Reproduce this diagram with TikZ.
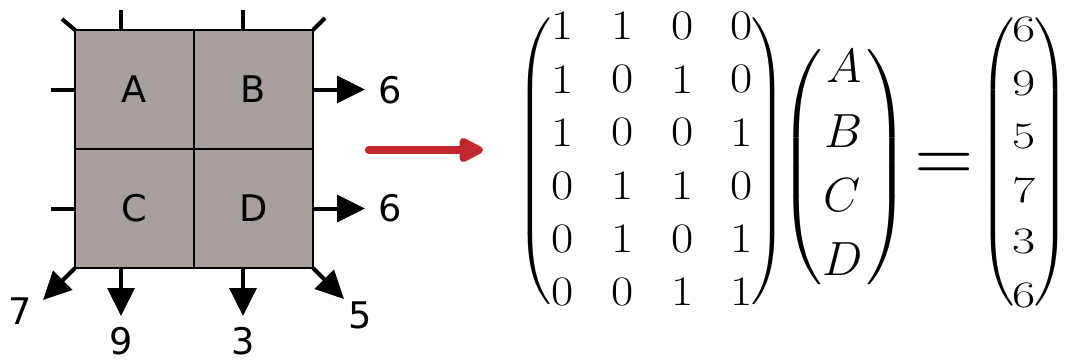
\documentclass[tikz,border=0pt]{standalone}
\usepackage{fontspec}
\usepackage{graphicx}
\usetikzlibrary{arrows.meta}
\newfontfamily\labelfont{DejaVu Sans}
% scalable Computer Modern math fonts
\DeclareFontShape{OML}{cmm}{m}{it}{<->cmmi12}{}
\DeclareFontShape{OT1}{cmr}{m}{n}{<->cmr12}{}
\definecolor{cellgray}{RGB}{168,159,157}
\definecolor{arrowred}{RGB}{193,39,45}
% stretched TeX parentheses: #1 natural half height, #2 box width, #3 total height
\newcommand{\dleft}[3]{\resizebox*{#2}{#3}{$\nulldelimiterspace=0pt\left(\vcenter{\hrule height #1 depth #1 width 0pt}\right.$}}
\newcommand{\dright}[3]{\resizebox*{#2}{#3}{$\nulldelimiterspace=0pt\left.\vcenter{\hrule height #1 depth #1 width 0pt}\right)$}}
\begin{document}
\begin{tikzpicture}[x=0.75pt,y=-0.75pt,
  cell/.style={draw=black, line width=1.5pt, fill=cellgray, minimum size=89.25pt,
    inner sep=0pt, outer sep=0pt, font=\labelfont\fontsize{27.5pt}{33pt}\selectfont},
  stub/.style={line width=3pt},
  flow/.style={line width=3pt, -{Triangle[length=21pt,width=20pt]}},
  lbl/.style={inner sep=0pt, font=\labelfont\fontsize{27.5pt}{33pt}\selectfont},
  num/.style={inner sep=0pt, font=\fontsize{31.5pt}{36pt}\selectfont},
  var/.style={inner sep=0pt, font=\fontsize{36pt}{40pt}\selectfont},
  res/.style={inner sep=0pt, font=\fontsize{28pt}{32pt}\selectfont},
  delim/.style={inner sep=0pt, outer sep=0pt}]
\fill[white] (0,0) rectangle (1067,361);
\useasboundingbox (0,0) rectangle (1067,361);

% the four cells
\node[cell] (A) at (134.5,89.5) {A};
\node[cell] (B) at (253.5,89.5) {B};
\node[cell] (C) at (134.5,208.5) {C};
\node[cell] (D) at (253.5,208.5) {D};

% open ends without flow
\coordinate (tA) at (121,10);
\coordinate (tB) at (243,10);
\coordinate (tl) at (62,19);
\coordinate (tr) at (325,18);
\coordinate (lA) at (51,89.5);
\coordinate (lC) at (51,208.5);
\draw[stub] (A.north -| tA) -- (tA);
\draw[stub] (B.north -| tB) -- (tB);
\draw[stub] (A.north west) -- (tl);
\draw[stub] (B.north east) -- (tr);
\draw[stub] (A.west) -- (lA);
\draw[stub] (C.west) -- (lC);

% outgoing flows
\coordinate (o1) at (365,89.5);
\coordinate (o2) at (365,208.5);
\coordinate (o3) at (121,316);
\coordinate (o4) at (243,316);
\coordinate (o5) at (43,300);
\coordinate (o6) at (344,299);
\draw[flow] (B.east) -- (o1);
\draw[flow] (D.east) -- (o2);
\draw[flow] (C.south -| o3) -- (o3);
\draw[flow] (D.south -| o4) -- (o4);
\draw[flow] (C.south west) -- (o5);
\draw[flow] (D.south east) -- (o6);

\node[lbl] (v1) at (390,90) {6};
\node[lbl] (v2) at (390,208.5) {6};
\node[lbl] (v3) at (121.5,341.5) {9};
\node[lbl] (v4) at (243,341.5) {3};
\node[lbl] (v5) at (20,311.5) {7};
\node[lbl] (v6) at (360,315) {5};

% red arrow
\coordinate (rs) at (369,150);
\coordinate (re) at (483,150);
\draw[arrowred, line width=6.25pt, line cap=round,
  -{Triangle[length=21pt,width=20pt,round]}] (rs) -- (re);

% coefficient matrix
\foreach \row [count=\i] in {{1,1,0,0},{1,0,1,0},{1,0,0,1},{0,1,1,0},{0,1,0,1},{0,0,1,1}}
  \foreach \v [count=\j] in \row
    \node[num] (m\i\j) at ({562.5+59.8*(\j-1)},{26+53.2*(\i-1)}) {\scalebox{1.15}[1]{\v}};
\node[delim] (ML) at (534.3,161.5) {\dleft{38.5pt}{26.25pt}{230.25pt}};
\node[delim] (MR) at (769.2,161.5) {\dright{38.5pt}{26.25pt}{230.25pt}};

% unknowns
\node[var] (xA) at (844.5,66.5) {$A$};
\node[var] (xB) at (843.5,131.5) {$B$};
\node[var] (xC) at (842.5,195) {$C$};
\node[var] (xD) at (842.5,259.5) {$D$};
\node[delim] (VL) at (800.7,167.5) {\dleft{25pt}{32.2pt}{183.75pt}};
\node[delim] (VR) at (887.8,167.5) {\dright{25pt}{32.2pt}{183.75pt}};

% equals sign
\node[inner sep=0pt, anchor=base, font=\fontsize{58.5pt}{64pt}\selectfont] (eq) at (944,181.5) {$=$};

% right-hand side
\foreach \v/\y [count=\i] in {6/29.5,9/83.5,5/136.5,7/190,3/241.5,6/295}
  \node[res] (r\i) at (1024,\y) {\scalebox{1.35}[1]{\v}};
\node[delim] (RL) at (996.8,162) {\dleft{37.5pt}{26.25pt}{225pt}};
\node[delim] (RR) at (1051.7,162) {\dright{37.5pt}{26.25pt}{225pt}};
\end{tikzpicture}
\end{document}
